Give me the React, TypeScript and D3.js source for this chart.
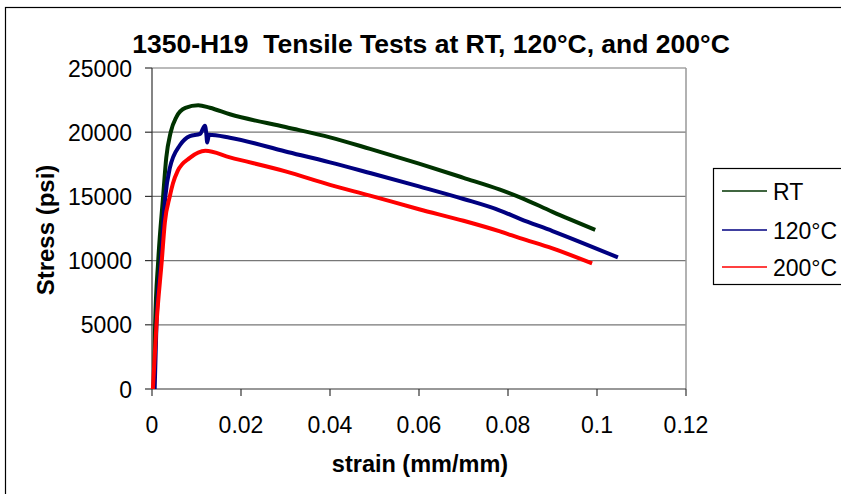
import React from "react";
import * as d3 from "d3";

const xTicks = [0, 0.02, 0.04, 0.06, 0.08, 0.1, 0.12];
const yTicks = [0, 5000, 10000, 15000, 20000, 25000];

const seriesNames = ["RT", "120°C", "200°C"];
const seriesColors = ["#003300", "#000080", "#ff0000"];

const rtData: [number, number][] = [
  [0.0004, 0], [0.0007, 5000], [0.0014, 10000], [0.0025, 15000], [0.0032, 18000],
  [0.0042, 20000], [0.0055, 21200], [0.0075, 21900], [0.0104, 22100], [0.013, 21900],
  [0.0175, 21400], [0.03, 20400], [0.04, 19600], [0.049, 18700],
  [0.06, 17550], [0.07, 16450], [0.0782, 15530], [0.0827, 14930], [0.09, 13800], [0.0996, 12400],
];

const t120Data: [number, number][] = [
  [0.0006, 0], [0.001, 5000], [0.002, 10000], [0.003, 15000], [0.004, 17200],
  [0.0063, 19000], [0.0085, 19700], [0.0108, 19870], [0.0119, 20500], [0.0122, 19900],
  [0.0124, 19200], [0.0128, 19800], [0.0175, 19570], [0.03, 18500], [0.04, 17650],
  [0.049, 16820], [0.06, 15780], [0.07, 14800], [0.0782, 13900],
  [0.0827, 13250], [0.09, 12300], [0.1047, 10250],
];

const t200Data: [number, number][] = [
  [0.0002, 0], [0.001, 5000], [0.0022, 10000], [0.0029, 13000], [0.004, 15000],
  [0.0047, 16000], [0.0058, 17000], [0.0085, 18000], [0.012, 18550], [0.0175, 18040],
  [0.03, 16950], [0.04, 15900], [0.049, 15060], [0.06, 14000],
  [0.07, 13100], [0.0782, 12270], [0.0827, 11750], [0.09, 10950], [0.0989, 9780],
];

const allSeries = [rtData, t120Data, t200Data];

export default function App() {
  const W = 841, H = 494;
  const x = d3.scaleLinear().domain([0, 0.12]).range([152, 686]);
  const y = d3.scaleLinear().domain([0, 25000]).range([389, 68]);
  const line = d3
    .line<[number, number]>()
    .x((d) => x(d[0]))
    .y((d) => y(d[1]))
    .curve(d3.curveMonotoneX);
  const font = "Arial, 'Liberation Sans', sans-serif";
  const legendY = [191, 230, 267];

  return (
    <svg width={W} height={H} style={{ position: "absolute", left: 0, top: 0, background: "#fff" }} fontFamily={font}>
      <rect x={0} y={0} width={W} height={H} fill="#fff" />
      <rect x={5.5} y={7.5} width={W + 10} height={H + 10} fill="none" stroke="#000" strokeWidth={1.2} />
      {/* gridlines */}
      {yTicks.filter((t) => t > 0).map((t) => (
        <line key={t} x1={x(0)} x2={x(0.12)} y1={y(t)} y2={y(t)} stroke="#777" strokeWidth={1.2} />
      ))}
      <line x1={x(0.12)} x2={x(0.12)} y1={y(25000)} y2={y(0)} stroke="#999" strokeWidth={1.5} />
      {/* axes */}
      <line x1={x(0)} x2={x(0)} y1={y(25000)} y2={y(0)} stroke="#333" strokeWidth={1.2} />
      <line x1={x(0)} x2={x(0.12)} y1={y(0)} y2={y(0)} stroke="#333" strokeWidth={1.2} />
      {yTicks.map((t) => (
        <g key={t}>
          <line x1={x(0) - 7} x2={x(0)} y1={y(t)} y2={y(t)} stroke="#333" strokeWidth={1.2} />
          <text x={x(0) - 20} y={y(t) + 8.5} textAnchor="end" fontSize={23} fill="#000">{t}</text>
        </g>
      ))}
      {xTicks.map((t) => (
        <g key={t}>
          <line x1={x(t)} x2={x(t)} y1={y(0)} y2={y(0) + 7} stroke="#333" strokeWidth={1.2} />
          <text x={x(t)} y={433} textAnchor="middle" fontSize={23} fill="#000">{String(t)}</text>
        </g>
      ))}
      {/* series */}
      {allSeries.map((s, i) => (
        <path key={i} d={line(s) || ""} fill="none" stroke={seriesColors[i]} strokeWidth={4} strokeLinejoin="round" />
      ))}
      {/* titles */}
      <text x={431} y={53} textAnchor="middle" fontSize={26.5} fontWeight="bold" fill="#000" style={{ whiteSpace: "pre" }}>
        {"1350-H19  Tensile Tests at RT, 120°C, and 200°C"}
      </text>
      <text x={420} y={472} textAnchor="middle" fontSize={23.5} fontWeight="bold" fill="#000">strain (mm/mm)</text>
      <text transform="translate(54,230) rotate(-90)" textAnchor="middle" fontSize={24} fontWeight="bold" fill="#000">Stress (psi)</text>
      {/* legend */}
      <rect x={713.5} y={168.5} width={140} height={116} fill="#fff" stroke="#000" strokeWidth={1.2} />
      {seriesNames.map((n, i) => (
        <g key={n}>
          <line x1={722} x2={767} y1={legendY[i]} y2={legendY[i]} stroke={seriesColors[i]} strokeWidth={1.5} />
          <text x={773} y={legendY[i] + 8.5} fontSize={23} fill="#000">{n}</text>
        </g>
      ))}
    </svg>
  );
}
